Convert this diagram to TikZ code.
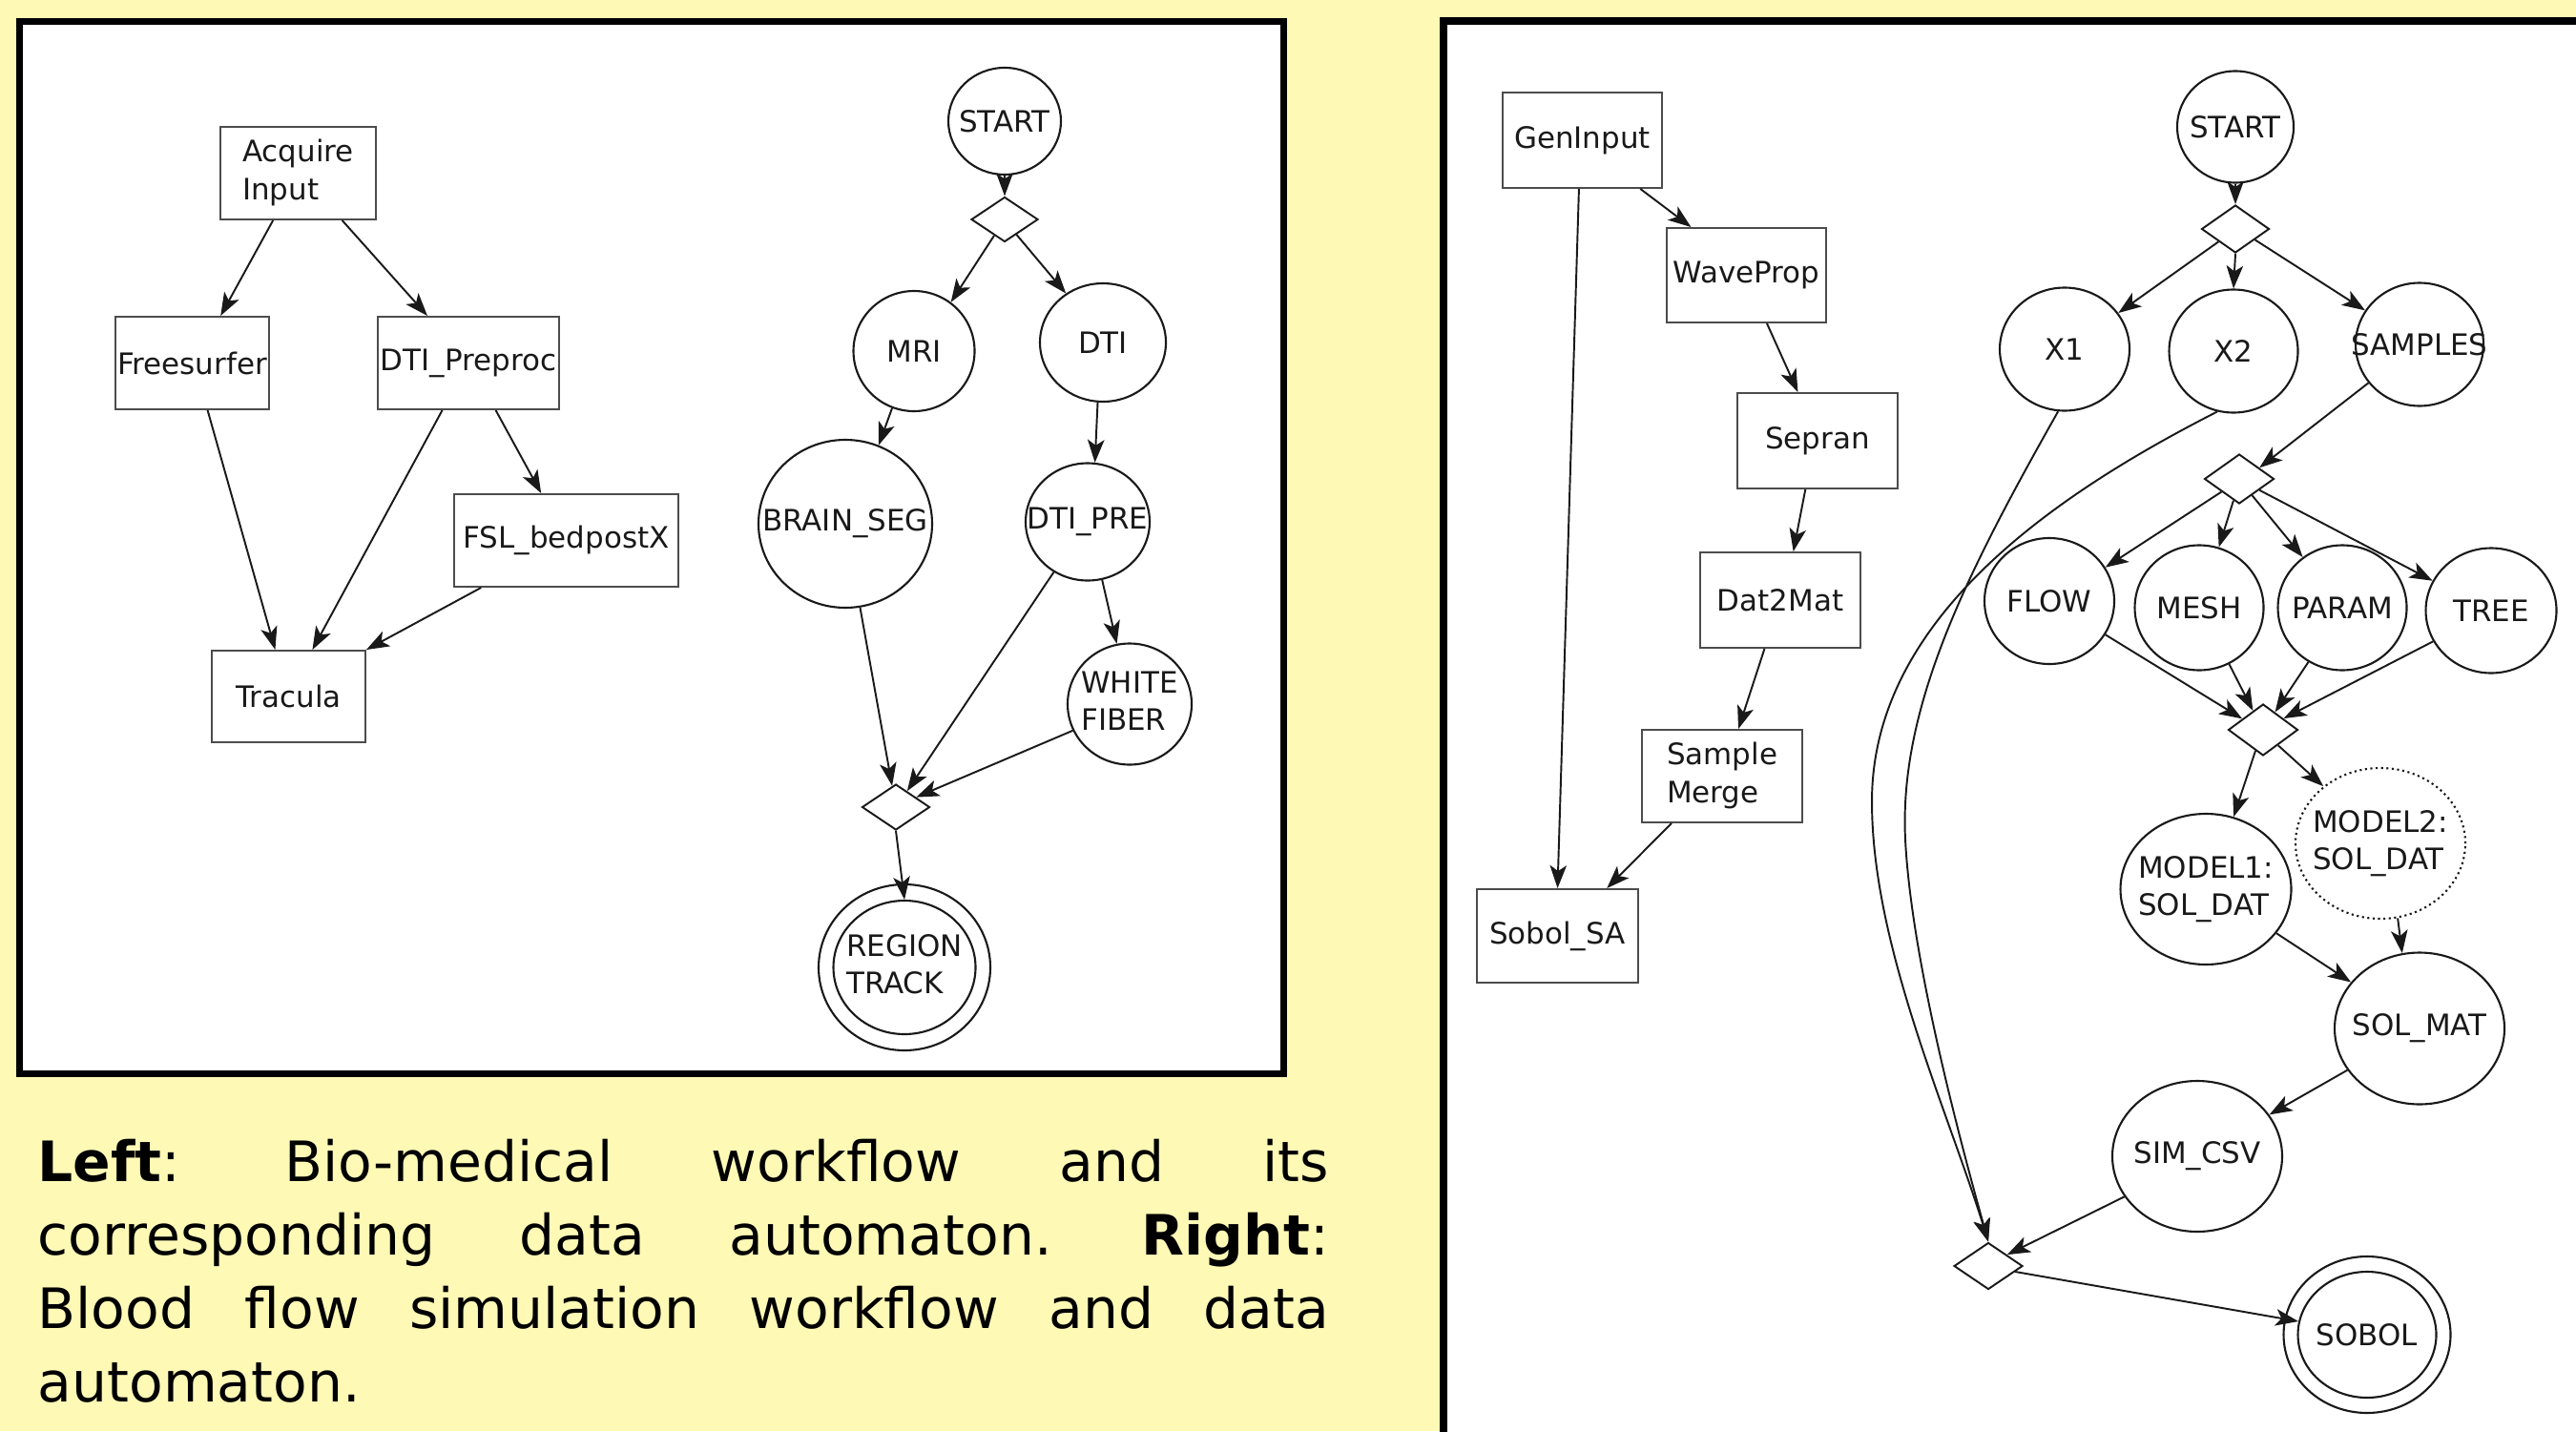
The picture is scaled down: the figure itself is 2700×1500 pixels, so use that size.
\documentclass[tikz,border=0pt]{standalone}
\usepackage{fontspec}
\setmainfont{DejaVu Sans}
\usetikzlibrary{shapes.geometric,arrows.meta}

\definecolor{paper}{RGB}{255,249,182}
\definecolor{ink}{RGB}{25,25,25}

% labels of zero width, so that a shape keeps its given size
\newcommand{\onetext}[1]{\makebox[0pt]{#1}}
\newcommand{\twotext}[2]{\makebox[0pt]{\begin{tabular}{@{}l@{}}#1\\#2\end{tabular}}}

\tikzset{
  every node/.style={font=\fontsize{8.8pt}{11.3pt}\selectfont, text=ink},
  task/.style={rectangle, draw=black!70, line width=0.55pt, inner sep=0pt},
  dstate/.style={ellipse, draw=ink, line width=0.6pt, inner sep=0pt},
  gate/.style={diamond, draw=ink, line width=0.55pt, inner sep=0pt},
  conn/.style={draw=ink, line width=0.55pt, -{Stealth[length=2.4mm,width=1.75mm,inset=0.6mm]}},
  caption/.style={anchor=base west, inner sep=0pt, text=black, font=\fontsize{16.6pt}{21.8pt}\selectfont},
}

\begin{document}
\begin{tikzpicture}[x=0.1mm,y=-0.1mm]
\useasboundingbox (0,0) rectangle (2700,1500);
\fill[paper] (0,0) rectangle (2700,1500);

% panels
\draw[line width=0.7mm, fill=white] (20,23) rectangle (1345,1125);
\fill[white] (1513,22) rectangle (2700,1500);
\draw[line width=0.85mm] (2710,22) -- (1513,22) -- (1513,1510);

% ---------- left: bio-medical workflow ----------
\node[task, minimum width=16.3mm, minimum height=9.7mm] (acq) at (312.5,181.5) {\twotext{Acquire}{Input}};
\node[task, minimum width=16.1mm, minimum height=9.7mm] (fs)  at (201.5,380.5) {\onetext{Freesurfer}};
\node[task, minimum width=19.0mm, minimum height=9.7mm] (dti) at (491,380.5) {\onetext{DTI\_Preproc}};
\node[task, minimum width=23.5mm, minimum height=9.7mm] (fsl) at (593.5,566.5) {\onetext{FSL\_bedpostX}};
\node[task, minimum width=16.1mm, minimum height=9.6mm] (tra) at (302.5,730) {\onetext{Tracula}};

\draw[conn] (acq.-118.6) -- (fs.59.9);
\draw[conn] (acq.-47.5) -- (dti.131.5);
\draw[conn] (fs.-72.3) -- (tra.106.8);
\draw[conn] (dti.-119.1) -- (tra.63);
\draw[conn] (dti.-60.9) -- (fsl.118.6);
\draw[conn] (fsl.-151) -- (tra.31);

% ---------- left: data automaton ----------
\node[dstate, minimum width=11.8mm, minimum height=11.2mm] (lstart) at (1053,127) {\onetext{START}};
\node[gate, minimum width=7.0mm, minimum height=4.7mm] (ld1) at (1053,230) {};
\node[dstate, minimum width=12.7mm, minimum height=12.6mm] (mri) at (958,368) {\onetext{MRI}};
\node[dstate, minimum width=13.2mm, minimum height=12.4mm] (dtic) at (1156,359) {\onetext{DTI}};
\node[dstate, minimum width=18.2mm, minimum height=17.6mm] (brain) at (886,549) {\onetext{BRAIN\_SEG}};
\node[dstate, minimum width=13.0mm, minimum height=12.3mm] (dtipre) at (1140,547) {\onetext{DTI\_PRE}};
\node[dstate, minimum width=13.0mm, minimum height=12.7mm] (white) at (1184,738) {\twotext{WHITE}{FIBER}};
\node[gate, minimum width=7.1mm, minimum height=4.8mm] (ld2) at (939,846) {};
\node[dstate, minimum width=18.0mm, minimum height=17.4mm] (regionring) at (948,1014) {};
\node[dstate, minimum width=14.9mm, minimum height=14.0mm] (region) at (948,1014) {\twotext{REGION}{TRACK}};

\draw[conn] (lstart.south) -- (ld1.north);
\draw[conn] (ld1.-123) -- (mri.53.8);
\draw[conn] (ld1.-52) -- (dtic.127.4);
\draw[conn] (mri.-111.2) -- (brain.67.5);
\draw[conn] (dtic.-95.5) -- (dtipre.83.6);
\draw[conn] (brain.-80) -- (ld2.100.9);
\draw[conn] (dtipre.-124.4) -- (ld2.55.2);
\draw[conn] (dtipre.-76) -- (white.102.5);
\draw[conn] (white.-155.3) -- (ld2.26.6);
\draw[conn] (ld2.south) -- (region.north);

% ---------- right: blood flow workflow ----------
\node[task, minimum width=16.7mm, minimum height=10.0mm] (gen)  at (1658.5,147) {\onetext{GenInput}};
\node[task, minimum width=16.7mm, minimum height=9.9mm]  (wave) at (1830.5,288.5) {\onetext{WaveProp}};
\node[task, minimum width=16.8mm, minimum height=10.0mm] (sep)  at (1905,462) {\onetext{Sepran}};
\node[task, minimum width=16.8mm, minimum height=10.0mm] (d2m)  at (1866,629) {\onetext{Dat2Mat}};
\node[task, minimum width=16.8mm, minimum height=9.7mm]  (smg)  at (1805,813.5) {\twotext{Sample}{Merge}};
\node[task, minimum width=16.9mm, minimum height=9.8mm]  (sob)  at (1632.5,981) {\onetext{Sobol\_SA}};

\draw[conn] (gen.-40) -- (wave.139.8);
\draw[conn] (gen.-94) -- (sob.north);
\draw[conn] (wave.-67.5) -- (sep.112.8);
\draw[conn] (sep.-104.6) -- (d2m.75.4);
\draw[conn] (d2m.-108.8) -- (smg.71.7);
\draw[conn] (smg.-137) -- (sob.44.7);

% ---------- right: data automaton ----------
\node[dstate, minimum width=12.2mm, minimum height=11.7mm] (rstart) at (2343,133) {\onetext{START}};
\node[gate, minimum width=7.1mm, minimum height=5.0mm] (rd1) at (2343,240) {};
\node[dstate, minimum width=13.6mm, minimum height=12.9mm] (x1) at (2164,366) {\onetext{X1}};
\node[dstate, minimum width=13.5mm, minimum height=12.9mm] (x2) at (2341,368) {\onetext{X2}};
\node[dstate, minimum width=13.4mm, minimum height=12.9mm] (samp) at (2536,361) {\onetext{SAMPLES}};
\node[gate, minimum width=7.3mm, minimum height=5.2mm] (rd2) at (2347,502) {};
\node[dstate, minimum width=13.6mm, minimum height=13.2mm] (flow) at (2148,630) {\onetext{FLOW}};
\node[dstate, minimum width=13.5mm, minimum height=13.1mm] (mesh) at (2305,637) {\onetext{MESH}};
\node[dstate, minimum width=13.5mm, minimum height=13.1mm] (param) at (2455,637) {\onetext{PARAM}};
\node[dstate, minimum width=13.7mm, minimum height=13.1mm] (tree) at (2611,640) {\onetext{TREE}};
\node[gate, minimum width=7.3mm, minimum height=5.4mm] (rd3) at (2372,765) {};
\node[dstate, minimum width=17.9mm, minimum height=15.8mm] (m1) at (2312,932) {\twotext{MODEL1:}{SOL\_DAT}};
\node[dstate, densely dotted, minimum width=17.8mm, minimum height=15.8mm] (m2) at (2495,884) {\twotext{MODEL2:}{SOL\_DAT}};
\node[dstate, minimum width=17.8mm, minimum height=15.9mm] (solmat) at (2536,1078) {\onetext{SOL\_MAT}};
\node[dstate, minimum width=17.8mm, minimum height=15.8mm] (simcsv) at (2303,1212) {\onetext{SIM\_CSV}};
\node[gate, minimum width=7.2mm, minimum height=4.9mm] (rd4) at (2084,1327) {};
\node[dstate, minimum width=17.5mm, minimum height=16.4mm] (sobolring) at (2481,1399) {};
\node[dstate, minimum width=14.5mm, minimum height=13.2mm] (sobol) at (2481,1399) {\onetext{SOBOL}};

\draw[conn] (rstart.south) -- (rd1.north);
\draw[conn] (rd1.-143) -- (x1.34.4);
\draw[conn] (rd1.south) -- (x2.north);
\draw[conn] (rd1.-29.5) -- (samp.148.3);
\draw[conn] (samp.-143) -- (rd2.29.4);
\draw[conn] (rd2.-144.2) -- (flow.31);
\draw[conn] (rd2.-105) -- (mesh.72.1);
\draw[conn] (rd2.-52) -- (param.128.7);
\draw[conn] (rd2.-29.5) -- (tree.153);
\draw[conn] (flow.-31.8) -- (rd3.152);
\draw[conn] (mesh.-62.3) -- (rd3.118.4);
\draw[conn] (param.-122.8) -- (rd3.56.3);
\draw[conn] (tree.-152) -- (rd3.29.5);
\draw[conn] (rd3.-110.6) -- (m1.69.8);
\draw[conn] (rd3.-46.5) -- (m2.135.5);
\draw[conn] (m1.-32.8) -- (solmat.146.3);
\draw[conn] (m2.-77.4) -- (solmat.103);
\draw[conn] (solmat.-150.6) -- (simcsv.30.7);
\draw[conn] (simcsv.-151.7) -- (rd4.31.6);
\draw[conn] (rd4.-12) -- (sobol.169.5);
\draw[conn] (x1.-96) .. controls (2063,598) and (1990,740) .. (1997,880)
                     .. controls (2003,1000) and (2050,1180) .. (rd4.north);
\draw[conn] (x2.-105.7) .. controls (2150,520) and (1962,650) .. (1962,840)
                       .. controls (1962,990) and (2040,1160) .. (rd4.north);

% ---------- caption ----------
\node[caption] (cap1) at (39,1238) {\hbox to 135.3mm{\textbf{Left}: \hfill Bio-medical \hfill workflow \hfill and \hfill its}};
\node[caption] (cap2) at (39,1315) {\hbox to 135.3mm{corresponding \hfill data \hfill automaton. \hfill \textbf{Right}:}};
\node[caption] (cap3) at (39,1392) {\hbox to 135.3mm{Blood \hfill flow \hfill simulation \hfill workflow \hfill and \hfill data}};
\node[caption] (cap4) at (39,1469) {automaton.};
\end{tikzpicture}
\end{document}
